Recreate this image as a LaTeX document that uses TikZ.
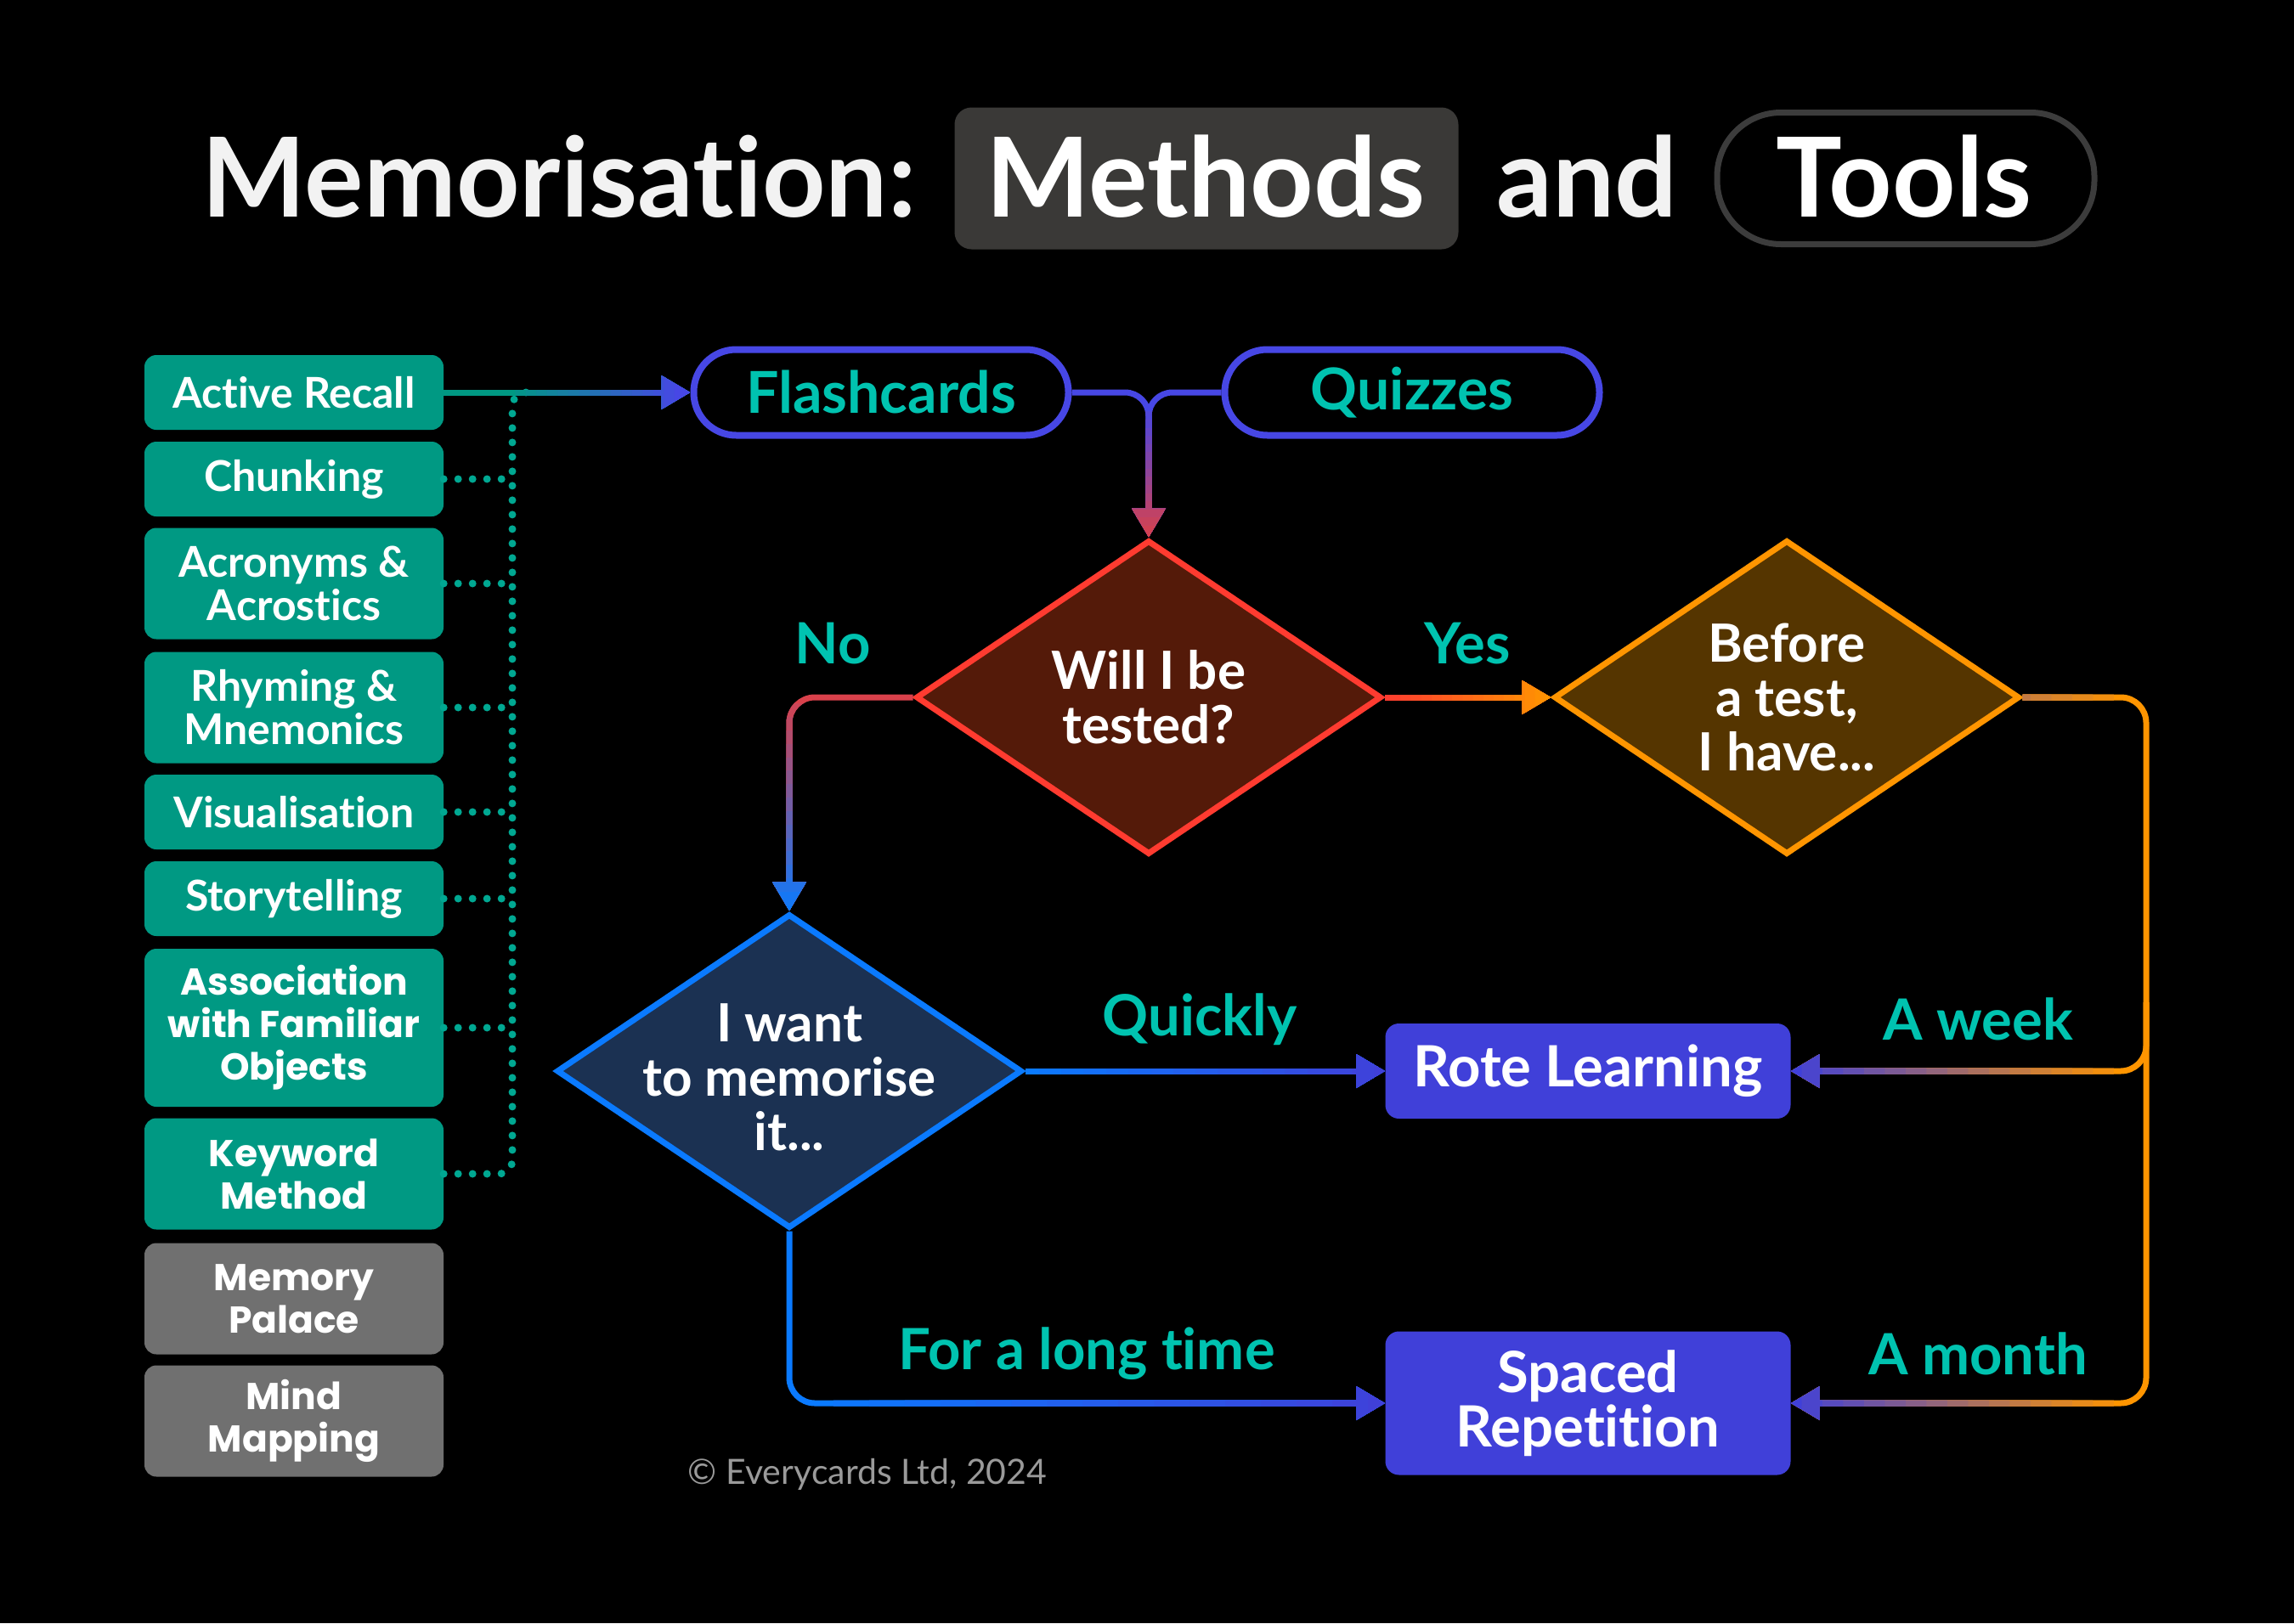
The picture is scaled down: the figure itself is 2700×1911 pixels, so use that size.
\documentclass[tikz,border=0pt]{standalone}
\usepackage{fontspec}
\setmainfont{Lato}[Ligatures={NoCommon}]
\newfontfamily\widefont{Poppins}[Ligatures={NoCommon}]
\usetikzlibrary{arrows.meta,shapes.geometric,calc}
\definecolor{tealbox}{HTML}{009983}
\definecolor{graybox}{HTML}{707070}
\definecolor{labteal}{HTML}{00C3B0}
\definecolor{dotteal}{HTML}{00A892}
\definecolor{pillblue}{HTML}{4747E5}
\definecolor{rotefill}{HTML}{4040D9}
\definecolor{willfill}{HTML}{541A09}
\definecolor{willred}{HTML}{FF3B30}
\definecolor{tipred}{HTML}{D9414B}
\definecolor{beffill}{HTML}{553500}
\definecolor{orng}{HTML}{FF9500}
\definecolor{wantfill}{HTML}{1B3152}
\definecolor{wantblue}{HTML}{0A7AFF}
\definecolor{methbox}{HTML}{3A3937}
\definecolor{toolgray}{HTML}{3C3C3C}
\definecolor{titlewhite}{HTML}{F2F2F2}
\definecolor{copygray}{HTML}{9A9A9A}
% gradient along x: #1 options, #2 start colour, #3 end colour, #4 x0, #5 x1, #6 path
\newcommand{\gradx}[6]{%
  \draw[#1,color=#2] #6;
  \foreach \k in {1,...,16}{%
    \pgfmathtruncatemacro\gpc{100-100*\k/16}%
    \pgfmathsetmacro\gxa{#4+(#5-#4)*(\k-0.5)/16}%
    \pgfmathsetmacro\gxb{#5+(#5-#4)*3}%
    \begin{scope}
      \clip (\gxa,-200) rectangle (\gxb,2200);
      \draw[#1,color=#2!\gpc!#3] #6;
    \end{scope}}}
% gradient along y
\newcommand{\grady}[6]{%
  \draw[#1,color=#2] #6;
  \foreach \k in {1,...,16}{%
    \pgfmathtruncatemacro\gpc{100-100*\k/16}%
    \pgfmathsetmacro\gya{#4+(#5-#4)*(\k-0.5)/16}%
    \pgfmathsetmacro\gyb{#5+(#5-#4)*3}%
    \begin{scope}
      \clip (-200,\gya) rectangle (3000,\gyb);
      \draw[#1,color=#2!\gpc!#3] #6;
    \end{scope}}}
\begin{document}
\begin{tikzpicture}[x=1pt,y=-1pt,
  lbox/.style={fill=tealbox, rounded corners=14pt, minimum width=352pt, text=white,
    font=\fontsize{50}{51}\selectfont\bfseries, align=center, inner sep=0pt},
  wbox/.style={lbox, font=\widefont\fontsize{44}{50}\selectfont\bfseries},
  hone/.style={minimum height=88pt},
  htwo/.style={minimum height=131pt},
  hthree/.style={minimum height=186pt},
  dotline/.style={draw=dotteal, line width=9pt, line cap=round, dash pattern=on 0pt off 17pt},
  pill/.style={draw=pillblue, line width=8pt, fill=black, rounded corners=50pt,
    minimum width=441pt, minimum height=101pt, text=labteal,
    font=\fontsize{68}{70}\selectfont\bfseries},
  dia/.style={diamond, line width=7pt, inner sep=0pt, minimum width=548pt, minimum height=370pt},
  dtext/.style={text=white, align=center, font=\fontsize{62}{64}\selectfont\bfseries},
  lab/.style={text=labteal, font=\fontsize{67}{70}\selectfont\bfseries},
  result/.style={fill=rotefill, rounded corners=16pt, minimum width=477pt, text=white,
    align=center, font=\fontsize{67}{64}\selectfont\bfseries},
  conn/.style={line width=7pt},
  arr/.style={line width=7pt, -{Triangle[length=34pt,width=38pt]}},
  titletext/.style={text=titlewhite, font=\fontsize{130}{150}\selectfont\bfseries, anchor=base}
]
\fill[black] (0,0) rectangle (2700,1911);
\useasboundingbox (0,0) rectangle (2700,1911);

% title
\node[fill=methbox, rounded corners=20pt, minimum width=593pt, minimum height=167pt, inner sep=0pt] (mbox) at (1420,210) {};
\node[draw=toolgray, line width=7pt, rounded corners=75pt, minimum width=444pt, minimum height=155pt, inner sep=0pt] (tbox) at (2243,210) {};
\node[titletext] (t1) at (658,255) {Memorisation:};
\node[titletext, text=white] (t2) at (1419,255) {Methods};
\node[titletext] (t3) at (1868,255) {and};
\node[titletext, text=white] (t4) at (2241,255) {Tools};

% left column
\node[lbox,hone] (ar) at (346,462) {Active Recall};
\node[lbox,hone] (ch) at (346,564) {Chunking};
\node[lbox,htwo] (ac) at (346,687) {Acronyms \&\\Acrostics};
\node[lbox,htwo] (rh) at (346,833) {Rhyming \&\\Mnemonics};
\node[lbox,hone] (vi) at (346,956) {Visualisation};
\node[lbox,hone] (st) at (346,1058) {Storytelling};
\node[wbox,hthree] (as) at (346,1210) {Association\\with Familiar\\Objects};
\node[wbox,htwo] (kw) at (346,1382) {Keyword\\Method};
\node[wbox,htwo,fill=graybox] (mp) at (346,1529) {Memory\\Palace};
\node[wbox,htwo,fill=graybox] (mm) at (346,1673) {Mind\\Mapping};

% dotted connectors
\coordinate (dj) at (603,462);
\coordinate (dtop) at (632,462);
\draw[dotline, rounded corners=16pt] (kw.east) -| (dj) -- (dtop);
\foreach \n in {ch,ac,rh,vi,st,as}{\draw[dotline] (\n.east) -- (\n.east -| dj);}

% flow nodes
\node[pill] (fl) at (1037,462) {Flashcards};
\node[pill] (qz) at (1662,462) {Quizzes};
\node[dia, draw=willred, fill=willfill] (will) at (1352,821) {};
\node[dtext] (willt) at (1352,821) {Will I be\\tested?};
\node[dia, draw=orng, fill=beffill] (bef) at (2103,821) {};
\node[dtext] (beft) at (2103,821) {Before\\a test,\\I have...};
\node[dia, draw=wantblue, fill=wantfill] (want) at (929,1261) {};
\node[dtext] (wantt) at (929,1268) {I want\\to memorise\\it...};
\node[result, minimum height=112pt] (rote) at (1869,1261) {Rote Learning};
\node[result, minimum height=169pt] (sp) at (1869,1652) {Spaced\\Repetition};
\coordinate (rbot) at (2526,1652);
\coordinate (rmid) at (2526,1180);

% connectors
\gradx{arr}{tealbox}{pillblue}{600}{800}{(ar.east) -- (fl.west)}
\grady{arr, rounded corners=28pt}{pillblue}{tipred}{480}{634}{(fl.east) -| (will.north)}
\grady{arr, rounded corners=28pt}{pillblue}{tipred}{480}{634}{(qz.west) -| (will.north)}
\grady{arr, rounded corners=30pt}{tipred}{wantblue}{821}{1074}{(will.west) -| (want.north)}
\gradx{arr}{willred}{orng}{1630}{1825}{(will.east) -- (bef.west)}
\gradx{arr}{wantblue}{rotefill}{1210}{1631}{(want.east) -- (rote.west)}
\gradx{arr, rounded corners=30pt}{wantblue}{rotefill}{960}{1631}{(want.south) |- (sp.west)}
\gradx{arr, rounded corners=30pt}{orng}{rotefill}{2500}{2108}{(bef.east) -| (rbot) -- (sp.east)}
\gradx{arr, rounded corners=30pt}{orng}{rotefill}{2500}{2108}{(rmid) |- (rote.east)}

% labels
\node[lab] (lno) at (980,758) {No};
\node[lab] (lyes) at (1727,758) {Yes};
\node[lab] (lq) at (1412,1200) {Quickly};
\node[lab] (lw) at (2328,1200) {A week};
\node[lab] (ll) at (1279,1594) {For a long time};
\node[lab] (lm) at (2328,1594) {A month};
\node[text=copygray, font=\fontsize{41}{44}\selectfont] (copy) at (1021,1736) {© Everycards Ltd, 2024};
\end{tikzpicture}
\end{document}
